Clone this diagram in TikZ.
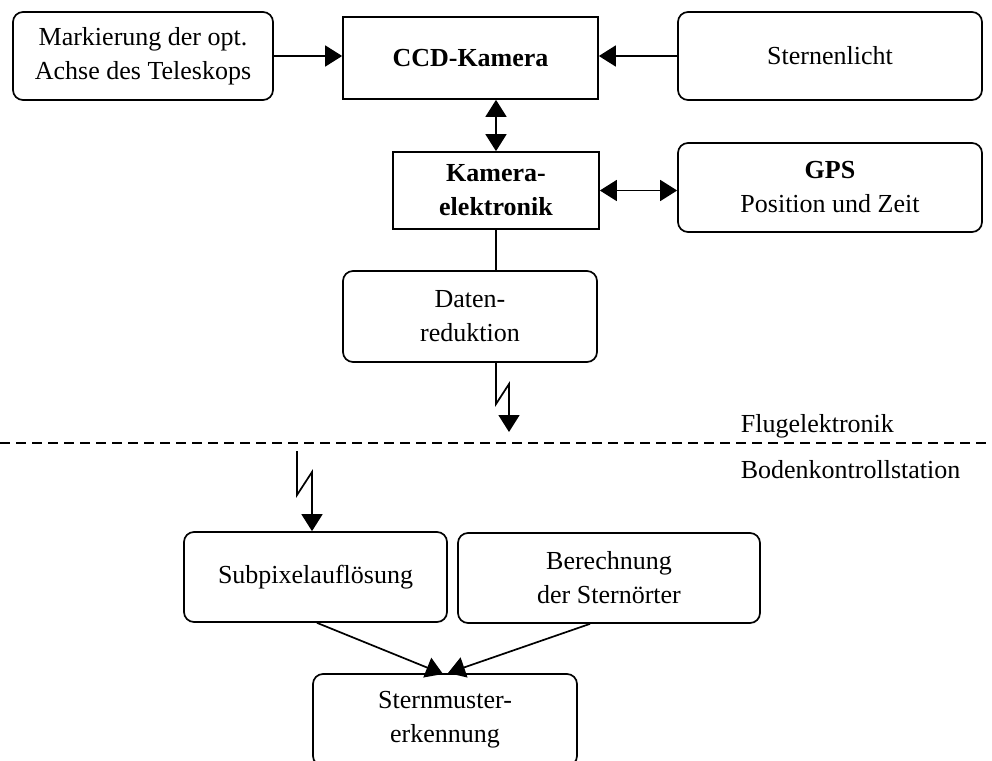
\documentclass[tikz,border=0pt]{standalone}
\usepackage{fontspec}
\setmainfont{Liberation Serif}
\usetikzlibrary{arrows.meta}
\begin{document}
\begin{tikzpicture}[x=1pt,y=-1pt,
  line width=1.7pt,
  every node/.style={font=\fontsize{26}{34}\selectfont, align=center},
  box/.style={draw, inner sep=0pt, minimum width=#1},
  roundbox/.style={box=#1, rounded corners=10pt},
  sharpbox/.style={box=#1},
  arr/.style={-{Triangle[length=17pt,width=21pt]}},
  darr/.style={{Triangle[length=17pt,width=21pt]}-{Triangle[length=17pt,width=21pt]}},
  sidelabel/.style={anchor=base west, inner sep=0pt}
]
\useasboundingbox (0,0) rectangle (992,760);

% flight segment
\node[roundbox=260pt, minimum height=88pt] (mark) at (143,56)
  {Markierung der opt.\\Achse des Teleskops};
\node[sharpbox=255pt, minimum height=82pt] (ccd) at (470.5,58)
  {\bfseries CCD-Kamera};
\node[roundbox=304pt, minimum height=88pt] (stern) at (830,56)
  {Sternenlicht};
\node[sharpbox=206pt, minimum height=77pt] (kam) at (496,190.5)
  {\bfseries Kamera-\\\bfseries elektronik};
\node[roundbox=304pt, minimum height=89pt] (gps) at (830,187.5)
  {\bfseries GPS\\Position und Zeit};
\node[roundbox=254pt, minimum height=91pt] (daten) at (470,316.5)
  {Daten-\\reduktion};

% ground segment (the last box runs past the lower page edge)
\node[roundbox=263pt, minimum height=90pt] (subpix) at (315.5,577)
  {Subpixelauflösung};
\node[roundbox=302pt, minimum height=90pt] (berech) at (609,578)
  {Berechnung\\der Sternörter};
\node[roundbox=264pt, minimum height=92pt] (muster) at (445,720)
  {Sternmuster-\\erkennung};

% connectors
\draw[arr] (mark.east) -- (mark.east -| ccd.west);
\draw[arr] (stern.west) -- (stern.west -| ccd.east);
\draw[darr] (kam.north) -- (kam.north |- ccd.south);
\draw[darr] (kam.east) -- (kam.east -| gps.west);
\draw (kam.south) -- (kam.south |- daten.north);

% radio link down
\coordinate (txtop) at (496,0);
\coordinate (txtip) at (509,432);
\draw[arr] (txtop |- daten.south) -- (496,404) -- (509,384) -- (txtip);

% separation between flight and ground
\coordinate (sepL) at (0,443);
\coordinate (sepR) at (992,443);
\draw[dashed, line width=1.5pt, dash pattern=on 10pt off 6pt] (sepL) -- (sepR);
\node[sidelabel] (flug) at (740,432) {Flugelektronik};
\node[sidelabel] (boden) at (740,478) {Bodenkontrollstation};

% radio link received
\coordinate (rxstart) at (297,451);
\draw[arr] (rxstart) -- (297,495) -- (312,472) -- (312,0 |- subpix.north);

% to pattern recognition
\draw[arr] (317,0 |- subpix.south) -- (443,674);
\draw[arr] (590,0 |- berech.south) -- (448,673);
\end{tikzpicture}
\end{document}
